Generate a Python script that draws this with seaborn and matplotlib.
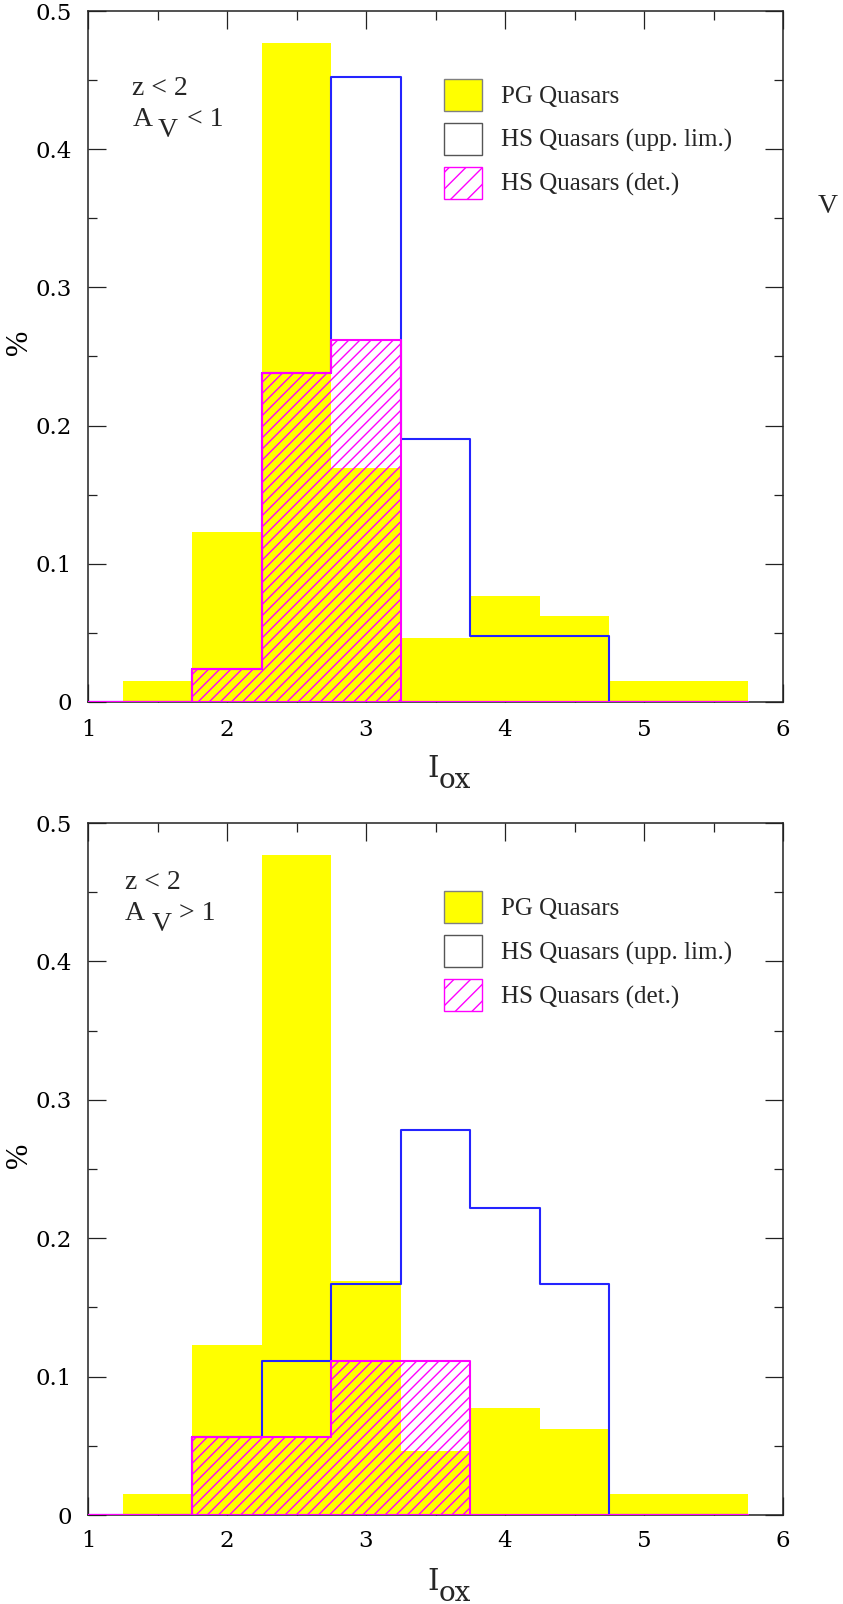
import matplotlib
matplotlib.use('Agg')
import matplotlib.pyplot as plt
import matplotlib.patches as mpatches
from matplotlib.ticker import MultipleLocator
import seaborn as sns

# l_ox histogram bins (first bin is empty, only there so the step starts at the axis)
bin_edges = [0.75, 1.25, 1.75, 2.25, 2.75, 3.25, 3.75, 4.25, 4.75, 5.25, 5.75]
bin_centers = [1.0, 1.5, 2.0, 2.5, 3.0, 3.5, 4.0, 4.5, 5.0, 5.5]

# PG quasars, same comparison sample in both panels
pg_frac = [0, 0.015, 0.123, 0.477, 0.169, 0.046, 0.077, 0.062, 0.015, 0.015]

# HS quasars, z < 2, A_V < 1
hs_lim_low = [0, 0, 0.024, 0.238, 0.452, 0.190, 0.048, 0.048, 0, 0]
hs_det_low = [0, 0, 0.024, 0.238, 0.262, 0, 0, 0, 0, 0]

# HS quasars, z < 2, A_V > 1
hs_lim_high = [0, 0, 0.056, 0.111, 0.167, 0.278, 0.222, 0.167, 0, 0]
hs_det_high = [0, 0, 0.056, 0.056, 0.111, 0.111, 0, 0, 0, 0]

x_ticks = [1, 2, 3, 4, 5, 6]
x_tick_labels = ['1', '2', '3', '4', '5', '6']
y_ticks = [0, 0.1, 0.2, 0.3, 0.4, 0.5]
y_tick_labels = ['0', '0.1', '0.2', '0.3', '0.4', '0.5']

legend_labels = ['PG Quasars', 'HS Quasars (upp. lim.)', 'HS Quasars (det.)']

YELLOW = '#ffff00'
BLUE = '#2424ff'
MAGENTA = '#ff00ff'
AXCOL = '#222222'
TIMES = 'Liberation Serif'

sns.set_theme(style='ticks')
plt.rcParams['font.family'] = ['DejaVu Serif']
plt.rcParams['hatch.color'] = MAGENTA
plt.rcParams['hatch.linewidth'] = 1.0


def draw_panel(ax, hs_lim, hs_det, sign, text_pos, xpad):
    sns.histplot(x=bin_centers, weights=pg_frac, bins=bin_edges, element='bars', fill=True,
                 color=YELLOW, alpha=1, edgecolor='none', linewidth=0, ax=ax)
    sns.histplot(x=bin_centers, weights=hs_lim, bins=bin_edges, element='step', fill=False,
                 color=BLUE, linewidth=1.5, zorder=2, ax=ax)
    sns.histplot(x=bin_centers, weights=hs_det, bins=bin_edges, element='step', fill=True,
                 color=MAGENTA, facecolor='none', edgecolor=MAGENTA, hatch='///',
                 linewidth=1.5, zorder=3, ax=ax)

    ax.set_xlim(1, 6)
    ax.set_ylim(0, 0.5)
    ax.set_xticks(x_ticks)
    ax.set_xticklabels(x_tick_labels)
    ax.set_yticks(y_ticks)
    ax.set_yticklabels(y_tick_labels)
    ax.xaxis.set_minor_locator(MultipleLocator(0.5))
    ax.yaxis.set_minor_locator(MultipleLocator(0.05))
    ax.tick_params(which='both', direction='in', top=True, right=True,
                   color=AXCOL, width=0.9, labelcolor='black')
    ax.tick_params(which='major', length=13, labelsize=16.5)
    ax.tick_params(which='minor', length=6.5)
    ax.tick_params(axis='y', pad=11.5)
    ax.tick_params(axis='x', pad=xpad)
    for sp in ax.spines.values():
        sp.set_visible(True)
        sp.set_color(AXCOL)
        sp.set_linewidth(1.1)

    # axis labels
    ax.set_xlabel('')
    ax.set_ylabel('%', family=TIMES, fontsize=22, color='black')
    ax.yaxis.set_label_coords(-0.077, 0.52)
    ax.text(0.488, -0.108, 'I', transform=ax.transAxes, fontsize=21, ha='left', va='baseline')
    ax.text(0.5045, -0.1245, 'ox', transform=ax.transAxes, fontsize=20, ha='left', va='baseline')

    # sample selection
    tx, ty, vx, sx = text_pos
    ax.text(tx, ty, 'z < 2', transform=ax.transAxes, family=TIMES, fontsize=20,
            ha='left', va='baseline')
    ax.text(tx, ty - 0.045, 'A', transform=ax.transAxes, family=TIMES, fontsize=20,
            ha='left', va='baseline')
    ax.text(vx, ty - 0.061, 'V', transform=ax.transAxes, family=TIMES, fontsize=20,
            ha='left', va='baseline')
    ax.text(sx, ty - 0.045, sign + ' 1', transform=ax.transAxes, family=TIMES, fontsize=20,
            ha='left', va='baseline')

    handles = [
        mpatches.Patch(facecolor=YELLOW, edgecolor='#808080', linewidth=1.0),
        mpatches.Patch(facecolor='white', edgecolor='#555555', linewidth=1.0),
        mpatches.Patch(facecolor='white', edgecolor=MAGENTA, hatch='//', linewidth=1.0),
    ]
    ax.legend(handles, legend_labels, loc='upper left', bbox_to_anchor=(0.512, 0.902),
              frameon=False, prop={'family': TIMES, 'size': 18},
              handlelength=1.52, handleheight=1.62, labelspacing=0.46,
              handletextpad=0.78, borderpad=0, borderaxespad=0)


fig = plt.figure(figsize=(8.43, 16.04), dpi=100)
ax_top = fig.add_axes([88 / 843, (1604 - 702) / 1604, 695 / 843, 691 / 1604])
ax_bot = fig.add_axes([88 / 843, (1604 - 1515) / 1604, 695 / 843, 692 / 1604])

draw_panel(ax_top, hs_lim_low, hs_det_low, '<', (0.064, 0.878, 0.1, 0.142), 12)
draw_panel(ax_bot, hs_lim_high, hs_det_high, '>', (0.053, 0.905, 0.091, 0.131), 11)

# stray letter from the neighbouring panel
fig.text(818 / 843, 1 - 213 / 1604, 'V', family=TIMES, fontsize=20, ha='left', va='baseline')

fig.savefig('out.png', dpi=100)
plt.close(fig)
